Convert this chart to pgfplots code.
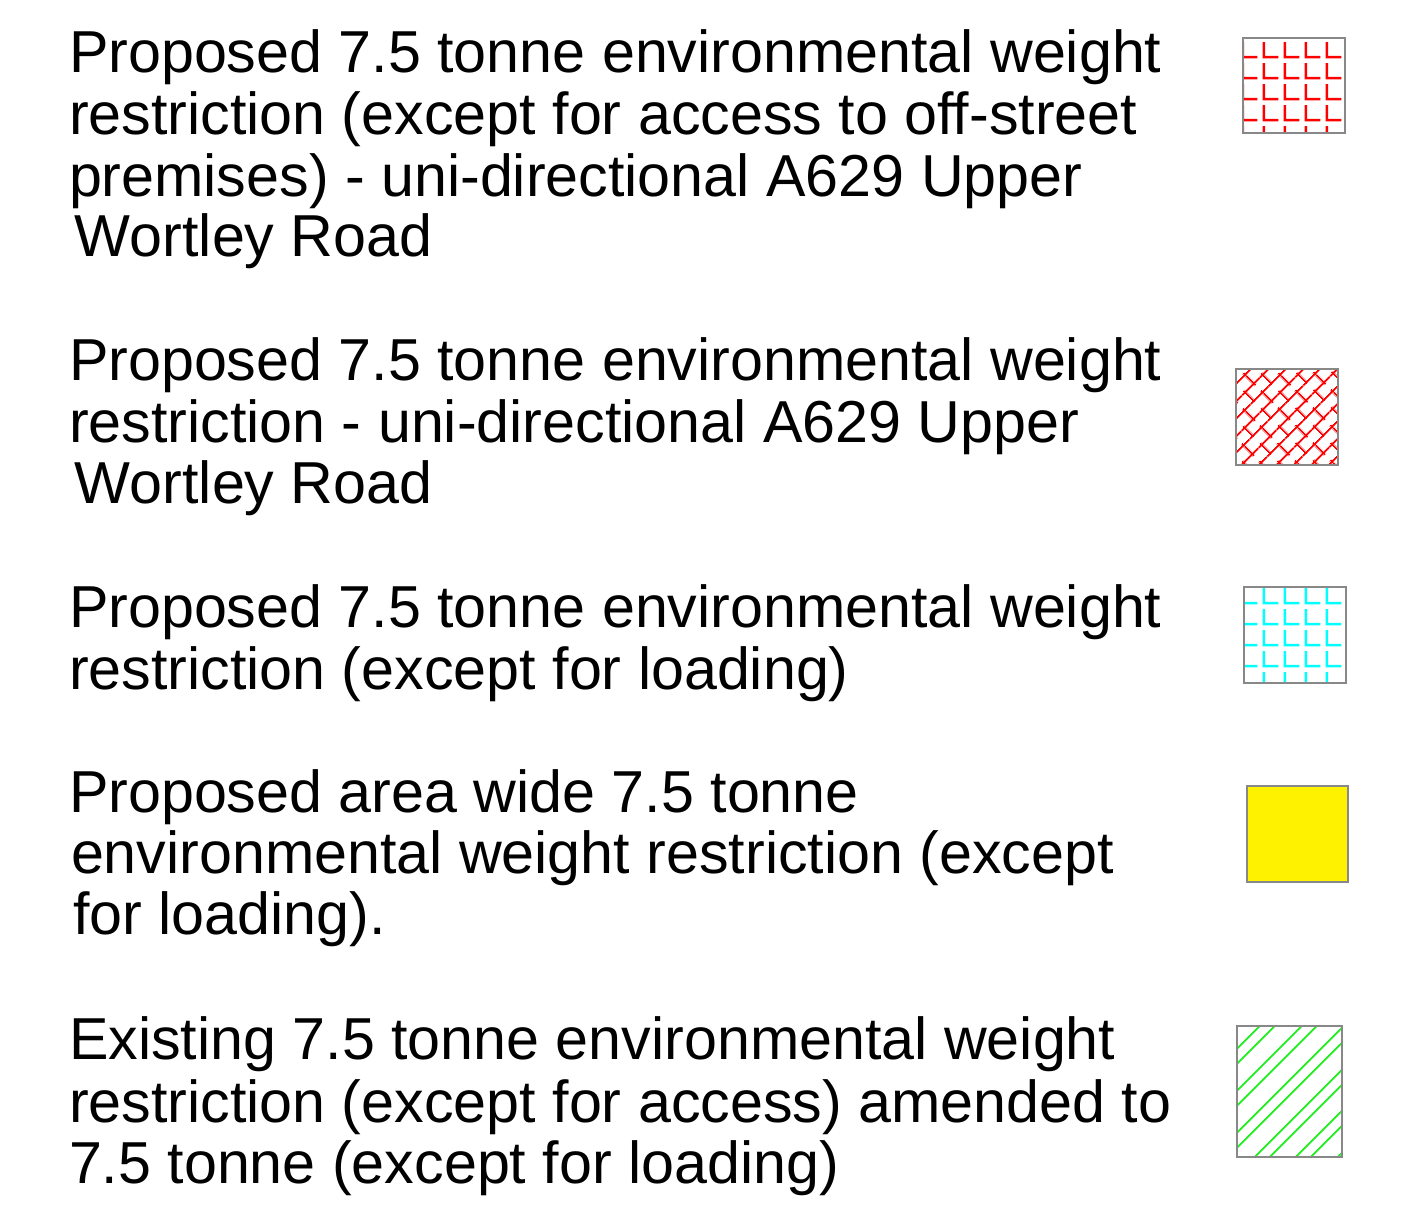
\documentclass[border=0pt]{standalone}
\usepackage{pgfplots}
\pgfplotsset{compat=1.18}
\usepackage{fontspec}
\setmainfont{Liberation Sans}
\usetikzlibrary{patterns.meta}
\definecolor{bordergray}{HTML}{888888}
\definecolor{cyanx}{HTML}{00FFFF}
\definecolor{greenx}{HTML}{22EE22}
\tikzdeclarepattern{
  name=Lgrid, type=uncolored,
  bounding box={(0pt,0pt) and (5.25pt,5.25pt)},
  tile size={(5.25pt,5.25pt)},
  code={\draw[line width=0.6pt, line cap=butt] (1.0pt,4.9pt) -- (1.0pt,1.0pt) -- (4.8pt,1.0pt);}
}
\tikzdeclarepattern{
  name=DiagBrick, type=uncolored,
  bounding box={(0pt,0pt) and (6.4pt,6.4pt)},
  tile size={(6.4pt,6.4pt)},
  tile transformation={rotate=45},
  code={
    \draw[line width=0.5pt] (-0.1pt,0.3pt) -- (6.5pt,0.3pt);
    \draw[line width=0.5pt] (-0.1pt,3.5pt) -- (6.5pt,3.5pt);
    \draw[line width=0.5pt] (1pt,0pt) -- (1pt,4.1pt);
    \draw[line width=0.5pt] (4.2pt,2.9pt) -- (4.2pt,6.4pt);
    \draw[line width=0.5pt] (4.2pt,0pt) -- (4.2pt,0.9pt);
  }
}
\tikzdeclarepattern{
  name=DoubleDiag, type=uncolored,
  bounding box={(0pt,0pt) and (1pt,7.4pt)},
  tile size={(1pt,7.4pt)},
  tile transformation={rotate=45},
  code={
    \draw[line width=0.5pt] (-0.1pt,0.5pt) -- (1.1pt,0.5pt);
    \draw[line width=0.5pt] (-0.1pt,3.15pt) -- (1.1pt,3.15pt);
  }
}
\tikzset{lt/.style={anchor=base west, inner sep=0pt, outer sep=0pt, font=\fontsize{14.8pt}{17pt}\selectfont}}
\begin{document}
\begin{tikzpicture}
\begin{axis}[
  scale only axis, width=356.75pt, height=303.75pt,
  xmin=0, xmax=1427, ymin=0, ymax=1215, y dir=reverse,
  hide axis, clip=false
]
\path (axis cs:0,0) rectangle (axis cs:1427,1215);
% swatches
\addplot[mark=none, draw=bordergray, line width=0.5pt, pattern={Lgrid}, pattern color=red]
  coordinates {(1243,38) (1345,38) (1345,133) (1243,133)} -- cycle;
\addplot[mark=none, draw=bordergray, line width=0.5pt, pattern={DiagBrick}, pattern color=red]
  coordinates {(1236,369) (1338,369) (1338,465) (1236,465)} -- cycle;
\addplot[mark=none, draw=bordergray, line width=0.5pt, pattern={Lgrid}, pattern color=cyanx]
  coordinates {(1244,587) (1346,587) (1346,683) (1244,683)} -- cycle;
\addplot[mark=none, draw=bordergray, line width=0.5pt, fill=yellow]
  coordinates {(1247,786) (1348,786) (1348,882) (1247,882)} -- cycle;
\addplot[mark=none, draw=bordergray, line width=0.5pt, pattern={DoubleDiag}, pattern color=greenx]
  coordinates {(1237,1026) (1342,1026) (1342,1157) (1237,1157)} -- cycle;
% texts
\node[lt] at (axis cs:69,72) {Proposed 7.5 tonne environmental weight};
\node[lt] at (axis cs:69,134) {restriction (except for access to off-street};
\node[lt] at (axis cs:69,196) {premises) - uni-directional A629 Upper};
\node[lt] at (axis cs:75,256) {Wortley Road};
\node[lt] at (axis cs:69,380) {Proposed 7.5 tonne environmental weight};
\node[lt] at (axis cs:69,442) {restriction - uni-directional A629 Upper};
\node[lt] at (axis cs:75,503) {Wortley Road};
\node[lt] at (axis cs:69,627) {Proposed 7.5 tonne environmental weight};
\node[lt] at (axis cs:69,689) {restriction (except for loading)};
\node[lt] at (axis cs:69,812) {Proposed area wide 7.5 tonne};
\node[lt] at (axis cs:71,873) {environmental weight restriction (except};
\node[lt] at (axis cs:73,934) {for loading).};
\node[lt] at (axis cs:69,1059) {Existing 7.5 tonne environmental weight};
\node[lt] at (axis cs:69,1122) {restriction (except for access) amended to};
\node[lt] at (axis cs:69,1183) {7.5 tonne (except for loading)};
\end{axis}
\end{tikzpicture}
\end{document}
